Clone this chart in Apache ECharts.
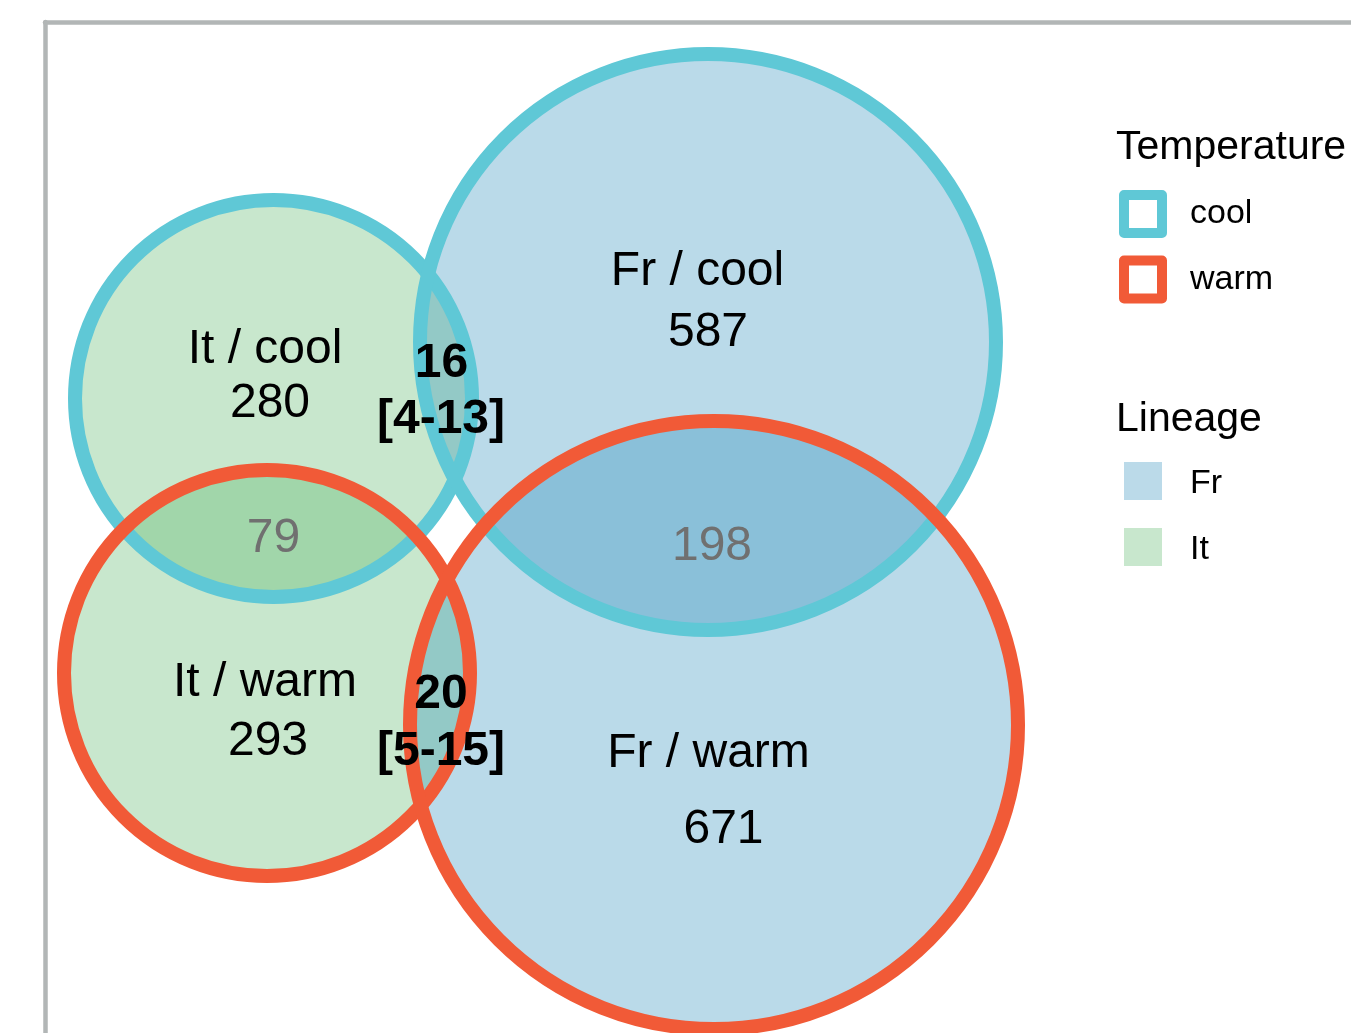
<!DOCTYPE html>
<html>
<head>
<meta charset="utf-8">
<script src="https://cdn.jsdelivr.net/npm/echarts@6/dist/echarts.min.js"></script>
<style>
  html, body { margin: 0; padding: 0; background: #fff; }
  #venn { width: 1351px; height: 1033px; }
</style>
</head>
<body>
<div id="venn"></div>
<script>
// sets of the diagram: centre x, centre y, radius (diagram units)
var setNames   = ['It / cool', 'Fr / cool', 'It / warm', 'Fr / warm'];
var setLineage = ['It', 'Fr', 'It', 'Fr'];
var setTemp    = ['cool', 'cool', 'warm', 'warm'];
var setX = [228.5, 663, 222, 669];
var setY = [376.5, 320, 651, 703];
var setR = [198.5, 288, 203, 304];

// counts
var uniqueCounts  = [280, 587, 293, 671];
var overlapLabels = ['16\n[4-13]', '79', '198', '20\n[5-15]'];

// where each label sits (diagram units)
var labelText = ['It / cool', '280', 'Fr / cool', '587', 'It / warm', '293', 'Fr / warm', '671',
                 '16', '[4-13]', '20', '[5-15]', '79', '198'];
var labelX = [220, 225, 652.5, 663, 220, 223, 663.5, 678.5, 396.5, 396, 396, 396, 228.5, 667];
var labelY = [328, 382, 249.5, 311, 661, 720, 732, 808, 342, 398, 673, 730, 517, 525];
var labelKind = ['n', 'n', 'n', 'n', 'n', 'n', 'n', 'n', 'b', 'b', 'b', 'b', 'g', 'g'];

var lineageFill = { Fr: 'rgba(28,132,182,0.3)', It: 'rgba(72,175,88,0.3)' };
var lineageKey  = { Fr: '#BBDAE9', It: '#C8E7CD' };
var tempColor   = { cool: '#5FC8D6', warm: '#F15A37' };

var FONT = 'Liberation Sans, Arial, sans-serif';

var chart = echarts.init(document.getElementById('venn'));

function circlesFor(key, field) {
    var out = [];
    for (var i = 0; i < setNames.length; i++) {
        if (field[i] === key) out.push([setX[i], setY[i], setR[i]]);
    }
    return out;
}

function fillSeries(name) {
    return {
        name: name,
        type: 'custom',
        coordinateSystem: 'cartesian2d',
        clip: false,
        silent: true,
        itemStyle: { color: lineageKey[name] },
        data: circlesFor(name, setLineage),
        renderItem: function (params, api) {
            var c = api.coord([api.value(0), api.value(1)]);
            var r = api.size([api.value(2), 0])[0];
            return {
                type: 'circle',
                shape: { cx: c[0], cy: c[1], r: r },
                style: { fill: lineageFill[name], stroke: null }
            };
        }
    };
}

function ringSeries(name) {
    return {
        name: name,
        type: 'custom',
        coordinateSystem: 'cartesian2d',
        clip: false,
        silent: true,
        itemStyle: { color: '#fff', borderColor: tempColor[name], borderWidth: 10 },
        data: circlesFor(name, setTemp),
        renderItem: function (params, api) {
            var c = api.coord([api.value(0), api.value(1)]);
            var r = api.size([api.value(2), 0])[0];
            return {
                type: 'circle',
                shape: { cx: c[0], cy: c[1], r: r },
                style: { fill: null, stroke: tempColor[name], lineWidth: 14 }
            };
        }
    };
}

var labelData = labelText.map(function (t, i) { return [labelX[i], labelY[i], i]; });

var panelLine = { show: true, onZero: false, lineStyle: { color: '#B2B6B6', width: 4.5 } };

option = {
    animation: false,
    backgroundColor: '#fff',
    grid: { left: 45, top: 22, right: 0, bottom: 0 },
    xAxis: {
        type: 'value', min: 0, max: 1306, position: 'top',
        axisLine: panelLine, axisTick: { show: false }, axisLabel: { show: false }, splitLine: { show: false }
    },
    yAxis: {
        type: 'value', min: 0, max: 1011, inverse: true,
        axisLine: panelLine, axisTick: { show: false }, axisLabel: { show: false }, splitLine: { show: false }
    },
    title: [
        { text: 'Temperature', left: 1116, top: 127, padding: 0,
          textStyle: { fontFamily: FONT, fontSize: 41, fontWeight: 'normal', color: '#000', lineHeight: 41 } },
        { text: 'Lineage', left: 1116, top: 399, padding: 0,
          textStyle: { fontFamily: FONT, fontSize: 41, fontWeight: 'normal', color: '#000', lineHeight: 41 } }
    ],
    legend: [
        {
            orient: 'vertical', left: 1119, top: 190, padding: 0,
            itemWidth: 38, itemHeight: 38, itemGap: 17.5,
            selectedMode: false,
            textStyle: { fontFamily: FONT, fontSize: 34, color: '#000', lineHeight: 38, padding: [0, 0, 0, 23] },
            data: ['cool', 'warm'].map(function (k) {
                return { name: k, icon: 'rect',
                         itemStyle: { color: '#fff', borderColor: tempColor[k], borderWidth: 10, borderJoin: 'round' } };
            })
        },
        {
            orient: 'vertical', left: 1124, top: 461, padding: 0,
            itemWidth: 38, itemHeight: 38, itemGap: 26,
            selectedMode: false,
            formatter: '{t|{name}}',
            textStyle: {
                fontFamily: FONT, fontSize: 34, color: '#000', padding: [0, 0, 0, 23],
                rich: { t: { fontFamily: FONT, fontSize: 34, color: '#000', lineHeight: 38, padding: [6, 0, 0, 0] } }
            },
            data: ['Fr', 'It'].map(function (k) {
                return { name: k, icon: 'rect', itemStyle: { color: lineageKey[k], borderWidth: 0 } };
            })
        }
    ],
    series: [
        fillSeries('It'),
        fillSeries('Fr'),
        ringSeries('cool'),
        ringSeries('warm'),
        {
            name: 'labels',
            type: 'custom',
            coordinateSystem: 'cartesian2d',
            clip: false,
            silent: true,
            data: labelData,
            renderItem: function (params, api) {
                var p = api.coord([api.value(0), api.value(1)]);
                var k = labelKind[api.value(2)];
                return {
                    type: 'text',
                    x: p[0], y: p[1],
                    style: {
                        text: labelText[api.value(2)],
                        fontFamily: FONT,
                        fontSize: 48,
                        fontWeight: k === 'b' ? 'bold' : 'normal',
                        fill: k === 'g' ? '#707070' : '#000',
                        align: 'center',
                        verticalAlign: 'middle'
                    }
                };
            }
        }
    ]
};

chart.setOption(option);

window.addEventListener('resize', function () {
    chart.resize();
});
</script>
</body>
</html>
